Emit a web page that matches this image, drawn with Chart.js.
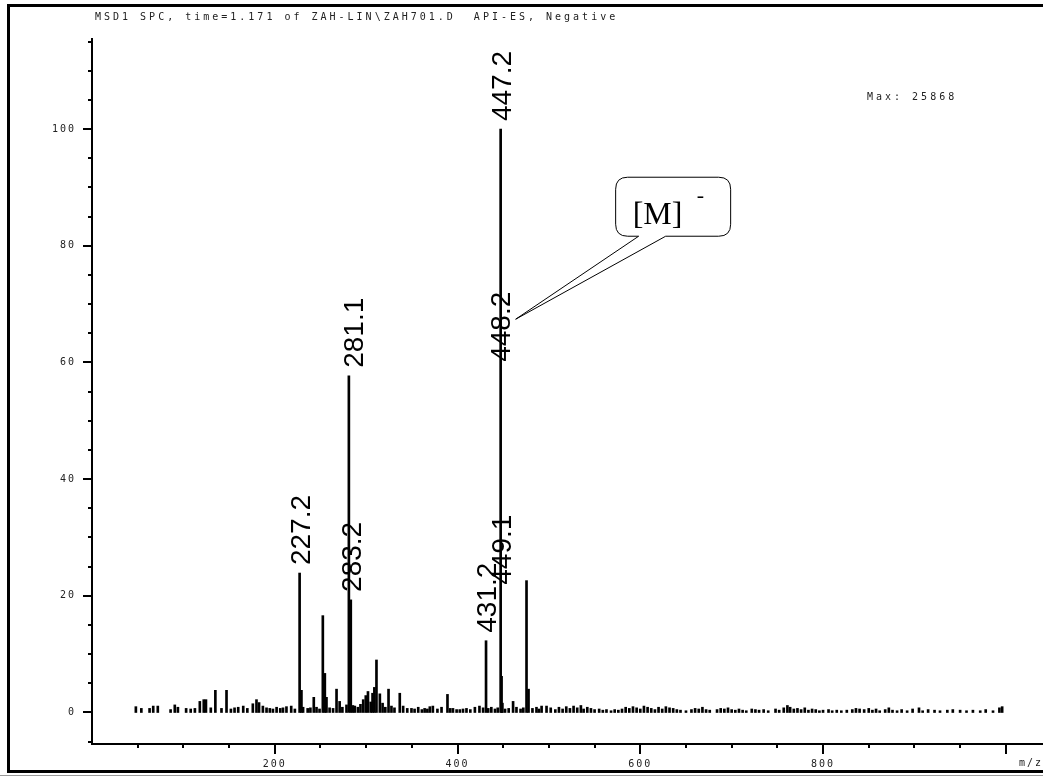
<!DOCTYPE html>
<html>
<head>
<meta charset="utf-8">
<script src="https://cdn.jsdelivr.net/npm/chart.js@4.4.0/dist/chart.umd.min.js"></script>
<style>
  html, body { margin: 0; padding: 0; background: #fff; }
  #wrap { width: 1043px; height: 777px; position: relative; }
</style>
</head>
<body>
<div id="wrap"><canvas id="spec" width="1043" height="777"></canvas></div>
<script>
// labelled peaks: m/z and relative abundance (%)
let peakMz = [227.2, 281.1, 283.2, 431.2, 447.2, 448.2, 449.1];
let peakInt = [23.9, 57.7, 19.3, 12.3, 100, 6.2, 1.6];
let peakLabels = ["227.2", "281.1", "283.2", "431.2", "447.2", "448.2", "449.1"];

// the other ions (no label)
let ionMz = [48, 54, 63, 67, 72, 86, 90.6, 94, 103, 108, 112.6, 118, 122.3, 124.7, 130, 135, 141.7, 147.2,
  152, 156, 160, 165.5, 170, 176, 180, 182.8, 187, 191, 194.6, 198, 202, 206, 209, 212.8, 218, 222,
  229.2, 231, 236, 239, 242.7, 245.7, 249, 252.6, 254.8, 256.6, 260, 263.8, 267.6, 271, 274, 278.5,
  285.5, 287.6, 291, 293.8, 296.8, 299.6, 302, 305, 307, 309, 311.3, 315, 318, 321, 324.5, 327.7, 331,
  336.8, 340.5, 345, 349.6, 353, 357, 361, 364, 367, 369.7, 373, 378, 382.5, 389, 392, 395, 399, 402.5,
  406, 409.8, 414, 419, 424, 428, 433.6, 437, 441, 444, 452, 456, 460.8, 464.5, 469, 472, 475.5, 477.7,
  482, 486.4, 489, 492, 497.4,
  502, 507, 511, 515, 519, 523, 527, 531, 535, 538, 542, 546, 550, 555, 559, 563, 568, 572, 576, 580,
  584, 588, 592, 596, 600, 604, 608, 612, 616, 620, 624, 628, 632, 636, 640, 644, 650, 656, 660, 664,
  668, 672, 676, 684, 688, 692, 696, 700, 704, 708, 712, 716, 722, 726, 730, 735, 740, 748, 752, 757,
  761, 764, 768, 772, 776, 780, 784, 788, 792, 796, 800, 806, 810, 815, 820, 826, 832, 836, 840, 845,
  850, 854, 858, 862, 868, 872, 876, 881, 886, 892, 898, 905, 909, 915, 922, 928, 936, 942, 950, 957,
  964, 972, 978, 986, 993, 996];
let ionInt = [1.0, 0.7, 0.7, 1.1, 1.1, 0.5, 1.3, 0.9, 0.7, 0.6, 0.7, 1.9, 2.2, 2.2, 0.8, 3.8, 0.7, 3.8,
  0.6, 0.8, 0.9, 1.1, 0.7, 1.5, 2.2, 1.7, 1.1, 0.8, 0.7, 0.6, 0.9, 0.7, 0.8, 1.0, 1.1, 0.6,
  3.8, 0.9, 0.7, 0.8, 2.6, 0.9, 0.6, 16.6, 6.7, 2.6, 0.8, 0.7, 4.0, 1.9, 0.9, 1.3,
  1.2, 1.1, 0.9, 1.4, 2.2, 2.9, 3.6, 1.8, 3.3, 4.3, 9.0, 3.2, 1.6, 0.9, 4.0, 1.1, 0.8,
  3.3, 1.1, 0.7, 0.7, 0.6, 0.9, 0.5, 0.7, 0.6, 1.0, 1.1, 0.6, 0.9, 3.1, 0.7, 0.7, 0.5, 0.5,
  0.6, 0.7, 0.5, 0.9, 1.1, 0.8, 0.7, 0.9, 0.6, 0.8, 0.6, 0.7, 1.9, 0.9, 0.6, 0.8, 22.6, 4.0,
  0.7, 0.9, 0.6, 1.1, 1.1,
  0.8, 0.5, 0.9, 0.6, 1.0, 0.7, 1.1, 0.8, 1.2, 0.6, 0.9, 0.7, 0.5, 0.6, 0.4, 0.5, 0.3, 0.5, 0.4, 0.6,
  0.9, 0.7, 1.0, 0.8, 0.6, 1.1, 0.9, 0.7, 0.5, 0.9, 0.6, 1.0, 0.8, 0.7, 0.5, 0.4, 0.3, 0.5, 0.7, 0.6,
  0.9, 0.5, 0.4, 0.5, 0.7, 0.6, 0.8, 0.5, 0.4, 0.6, 0.4, 0.3, 0.6, 0.5, 0.4, 0.5, 0.3, 0.6, 0.4, 0.8,
  1.2, 0.9, 0.6, 0.7, 0.5, 0.8, 0.4, 0.6, 0.5, 0.3, 0.4, 0.5, 0.3, 0.4, 0.3, 0.4, 0.5, 0.7, 0.6, 0.5,
  0.7, 0.4, 0.6, 0.3, 0.5, 0.8, 0.4, 0.3, 0.5, 0.3, 0.6, 0.8, 0.3, 0.5, 0.4, 0.3, 0.4, 0.5, 0.4, 0.3,
  0.4, 0.3, 0.5, 0.3, 0.8, 1.0];

let yTicks = [0, 20, 40, 60, 80, 100];
let yTickLabels = ["0", "20", "40", "60", "80", "100"];
let xTicks = [200, 400, 600, 800];
let xTickLabels = ["200", "400", "600", "800"];
let titleText = "MSD1 SPC, time=1.171 of ZAH-LIN\\ZAH701.D  API-ES, Negative";
let maxText = "Max: 25868";
let calloutText = "[M]";

// all sticks in one dataset, sorted by m/z
let points = [];
for (let i = 0; i < peakMz.length; i++) points.push({x: peakMz[i], y: peakInt[i]});
for (let i = 0; i < ionMz.length; i++) points.push({x: ionMz[i], y: ionInt[i]});
points.sort((a, b) => a.x - b.x);

const extras = {
  id: 'extras',
  afterDraw(chart, args, opts) {
    const ctx = chart.ctx;
    const xs = chart.scales.x, ys = chart.scales.y;
    const area = chart.chartArea;
    ctx.save();
    ctx.fillStyle = '#000';
    ctx.strokeStyle = '#000';

    // axis lines
    ctx.fillRect(area.left - 1, area.top, 2, area.bottom - area.top + 1);
    ctx.fillRect(area.left - 1, area.bottom - 1, area.right - area.left + 2, 2);

    // y ticks, minor every 5
    for (let v = -5; v <= 115; v += 5) {
      const y = Math.round(ys.getPixelForValue(v));
      const len = v % 20 === 0 ? 8 : 3;
      ctx.fillRect(area.left - 1 - len, y - 1, len, 2);
    }
    // x ticks, minor every 50
    for (let v = 50; v <= 1000; v += 50) {
      const x = Math.round(xs.getPixelForValue(v));
      const len = v % 200 === 0 ? 10 : 4;
      ctx.fillRect(x - 1, area.bottom, 2, len);
    }

    // tick labels (small dotted instrument font)
    ctx.font = '10px "DejaVu Sans Mono"';
    ctx.letterSpacing = '2px';
    ctx.fillStyle = '#222';
    ctx.textAlign = 'right';
    ctx.textBaseline = 'middle';
    yTicks.forEach((v, i) => {
      ctx.fillText(yTickLabels[i], 76, ys.getPixelForValue(v));
    });
    ctx.textAlign = 'center';
    ctx.textBaseline = 'top';
    xTicks.forEach((v, i) => {
      ctx.fillText(xTickLabels[i], xs.getPixelForValue(v), 759);
    });
    ctx.textAlign = 'left';
    ctx.fillText('m/z', 1019, 758);

    // title and max
    ctx.letterSpacing = '3px';
    ctx.textBaseline = 'middle';
    ctx.fillText(titleText, 95, 17);
    ctx.fillText(maxText, 867, 97);
    ctx.letterSpacing = '0px';

    // peak labels, rotated
    ctx.fillStyle = '#000';
    ctx.font = '28px "Liberation Sans"';
    const capH = 20;
    peakMz.forEach((mz, i) => {
      const lab = peakLabels[i];
      const x = xs.getPixelForValue(mz) + (opts.shift[lab] || 0);
      const yb = opts.anchor[lab] !== undefined
        ? ys.getPixelForValue(opts.anchor[lab])
        : ys.getPixelForValue(peakInt[i]) - 8;
      ctx.save();
      ctx.translate(x + capH / 2, yb);
      ctx.rotate(-Math.PI / 2);
      ctx.textAlign = 'left';
      ctx.textBaseline = 'alphabetic';
      ctx.fillText(lab, 0, 0);
      ctx.restore();
    });

    // callout for the molecular ion
    const tx = xs.getPixelForValue(447.2) + 15;
    const ty = ys.getPixelForValue(67.4);
    const L = tx + 100, T = ty - 142, R = tx + 215, B = ty - 83, r = 12;
    ctx.lineWidth = 1;
    ctx.beginPath();
    ctx.moveTo(L + r, T);
    ctx.lineTo(R - r, T);
    ctx.quadraticCurveTo(R, T, R, T + r);
    ctx.lineTo(R, B - r);
    ctx.quadraticCurveTo(R, B, R - r, B);
    ctx.lineTo(tx + 150, B);
    ctx.lineTo(tx, ty);
    ctx.lineTo(tx + 123, B);
    ctx.lineTo(L + r, B);
    ctx.quadraticCurveTo(L, B, L, B - r);
    ctx.lineTo(L, T + r);
    ctx.quadraticCurveTo(L, T, L + r, T);
    ctx.closePath();
    ctx.fillStyle = '#fff';
    ctx.fill();
    ctx.stroke();
    ctx.fillStyle = '#000';
    ctx.font = '32px "Liberation Serif"';
    ctx.textAlign = 'left';
    ctx.textBaseline = 'alphabetic';
    ctx.fillText(calloutText, L + 17, B - 12);
    ctx.font = '22px "Liberation Serif"';
    ctx.fillText('-', L + 81, T + 25);

    // outer frame
    ctx.lineWidth = 3;
    ctx.strokeRect(8.5, 5.5, 1040, 766);
    ctx.fillStyle = '#999';
    ctx.fillRect(0, 775, 1043, 1);
    ctx.restore();
  }
};

new Chart(document.getElementById('spec'), {
  type: 'bar',
  data: {
    datasets: [{
      data: points,
      backgroundColor: '#000',
      borderWidth: 0,
      barThickness: 2
    }]
  },
  options: {
    responsive: false,
    animation: false,
    layout: { padding: { left: 92, top: 38, right: 0, bottom: 33 } },
    scales: {
      x: { type: 'linear', min: 0, max: 1040.7, offset: false, display: false },
      y: { min: -5.4, max: 115.6, display: false }
    },
    plugins: {
      legend: { display: false },
      tooltip: { enabled: false },
      extras: {
        anchor: { "448.2": 60.1, "449.1": 21.9 },
        shift: { "281.1": 4, "448.2": -1.5, "449.1": -1.5 }
      }
    }
  },
  plugins: [extras]
});
</script>
</body>
</html>
